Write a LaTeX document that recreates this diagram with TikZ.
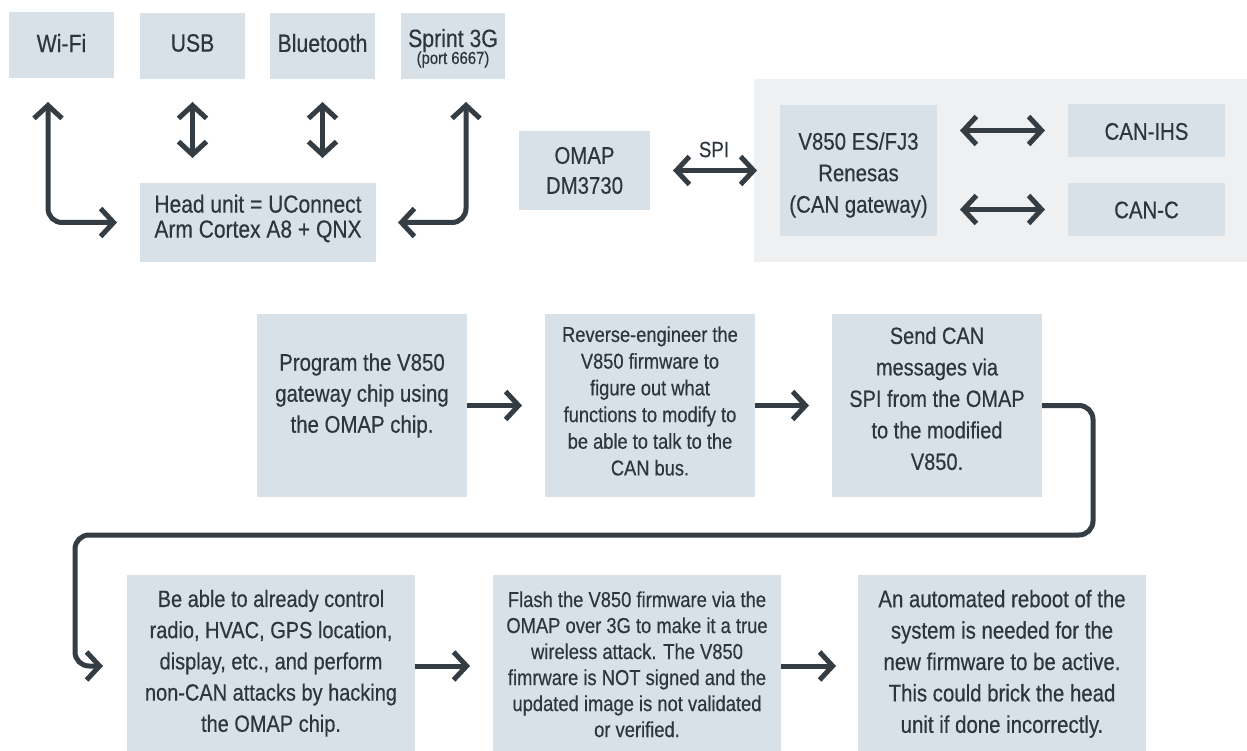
\documentclass[tikz,border=0pt]{standalone}
\usepackage{fontspec}
\setmainfont{Liberation Sans}[FakeStretch=0.85,FakeBold=0.4]
\usetikzlibrary{arrows.meta}
\definecolor{boxc}{RGB}{215,225,231}
\definecolor{bgc}{RGB}{239,240,242}
\definecolor{arrc}{RGB}{52,60,68}
\definecolor{txtc}{RGB}{46,53,60}
\newcommand\fsz[2]{\fontsize{#1}{#2}\selectfont}
\begin{document}
\begin{tikzpicture}[x=1pt,y=-1pt,
  box/.style={fill=boxc,inner sep=0pt,outer sep=0pt},
  panel/.style={fill=bgc,inner sep=0pt,outer sep=0pt},
  txt/.style={text=txtc,align=center,inner sep=0pt},
  conn/.style={draw=arrc,line width=5pt},
  >={Straight Barb[length=13pt,width=28pt]}]
\useasboundingbox (0,0) rectangle (1247,751);
% top row
\node[box,minimum width=105pt,minimum height=66pt] (wifi) at (61.5,45) {};
\node[box,minimum width=105pt,minimum height=66pt] (usb) at (192.5,46) {};
\node[box,minimum width=105pt,minimum height=66pt] (bt) at (322.5,46) {};
\node[box,minimum width=104pt,minimum height=66pt] (sprint) at (453,46) {};
\node[txt,font=\fsz{25}{30}] (wifit) at (61.5,43) {Wi-Fi};
\node[txt,font=\fsz{25}{30}] (usbt) at (192.5,43) {USB};
\node[txt,font=\fsz{25}{30}] (btt) at (322.5,43) {Bluetooth};
\node[txt,font=\fsz{25}{30},anchor=base] (sprt) at (453,47) {Sprint 3G};
\node[txt,font=\fsz{17.5}{20},anchor=base] (sprp) at (453,64) {(port 6667)};
\node[box,minimum width=236pt,minimum height=79pt] (head) at (258,222.5) {};
\node[txt,font=\fsz{24.7}{25}] (headt) at (258,218.5) {Head unit = UConnect\\Arm Cortex A8 + QNX};
% OMAP / gateway
\node[box,minimum width=131pt,minimum height=79pt] (omap) at (584.5,170.5) {};
\node[txt,font=\fsz{24}{30}] (omapt) at (584.5,170.5) {OMAP\\DM3730};
\node[panel,minimum width=493pt,minimum height=183pt] (gw) at (1000.5,170.5) {};
\node[box,minimum width=157pt,minimum height=131pt] (v850) at (858.5,170.5) {};
\node[txt,font=\fsz{24}{31.5}] (v850t) at (858.5,175) {V850 ES/FJ3\\Renesas\\(CAN gateway)};
\node[box,minimum width=157pt,minimum height=53pt] (canihs) at (1146.5,130.5) {};
\node[box,minimum width=157pt,minimum height=53pt] (canc) at (1146.5,209.5) {};
\node[txt,font=\fsz{24}{30}] (canihst) at (1146.5,131.5) {CAN-IHS};
\node[txt,font=\fsz{24}{30}] (canct) at (1146.5,210) {CAN-C};
\node[txt,font=\fsz{22}{26}] (spi) at (714,149.5) {SPI};
% middle row
\node[box,minimum width=210pt,minimum height=183pt] (s1) at (362,405.5) {};
\node[box,minimum width=210pt,minimum height=183pt] (s2) at (650,405.5) {};
\node[box,minimum width=210pt,minimum height=183pt] (s3) at (937,405.5) {};
\node[txt,font=\fsz{24}{31}] (s1t) at (362,395.5) {Program the V850\\gateway chip using\\the OMAP chip.};
\node[txt,font=\fsz{21.5}{26.7}] (s2t) at (650,401) {Reverse-engineer the\\V850 firmware to\\figure out what\\functions to modify to\\be able to talk to the\\CAN bus.};
\node[txt,font=\fsz{23.5}{31.5}] (s3t) at (937,398.5) {Send CAN\\messages via\\SPI from the OMAP\\to the modified\\V850.};
% bottom row
\node[box,minimum width=288pt,minimum height=176pt] (s4) at (271,663) {};
\node[box,minimum width=288pt,minimum height=176pt] (s5) at (637,663) {};
\node[box,minimum width=288pt,minimum height=176pt] (s6) at (1002,663) {};
\node[txt,font=\fsz{23.5}{31.2}] (s4t) at (271,663.3) {Be able to already control\\radio, HVAC, GPS location,\\display, etc., and perform\\non-CAN attacks by hacking\\the OMAP chip.};
\node[txt,font=\fsz{21.6}{26}] (s5t) at (637,664.3) {Flash the V850 firmware via the\\OMAP over 3G to make it a true\\wireless attack. The V850\\fimrware is NOT signed and the\\updated image is not validated\\or verified.};
\node[txt,font=\fsz{24}{31.4}] (s6t) at (1002,663.8) {An automated reboot of the\\system is needed for the\\new firmware to be active.\\This could brick the head\\unit if done incorrectly.};
% connectors top
\draw[conn,<->,rounded corners=14pt,shorten <=24pt,shorten >=23pt] ([xshift=-13.5pt]wifi.south) |- (head.west);
\draw[conn,<->,rounded corners=14pt,shorten <=23pt,shorten >=22pt] ([xshift=13pt]sprint.south) |- (head.east);
\draw[conn,<->,shorten <=23pt,shorten >=25pt] (usb.south) -- (usb.south |- head.north);
\draw[conn,<->,shorten <=23pt,shorten >=25pt] (bt.south) -- (bt.south |- head.north);
\draw[conn,<->,shorten <=23pt,shorten >=23pt] (omap.east) -- (v850.west);
\draw[conn,<->,shorten <=23pt,shorten >=23pt] (v850.east |- canihs.west) -- (canihs.west);
\draw[conn,<->,shorten <=23pt,shorten >=23pt] (v850.east |- canc.west) -- (canc.west);
% flow
\draw[conn,->,shorten >=23pt] (s1.east) -- (s2.west);
\draw[conn,->,shorten >=23pt] (s2.east) -- (s3.west);
\draw[conn,->,rounded corners=14pt,shorten >=24pt] (s3.east) -- ++(51,0) |- (75,535) |- ([yshift=-3pt]s4.west);
\draw[conn,->,shorten >=23pt] ([yshift=-3pt]s4.east) -- ([yshift=-3pt]s5.west);
\draw[conn,->,shorten >=22pt] ([yshift=-3pt]s5.east) -- ([yshift=-3pt]s6.west);
\end{tikzpicture}
\end{document}
